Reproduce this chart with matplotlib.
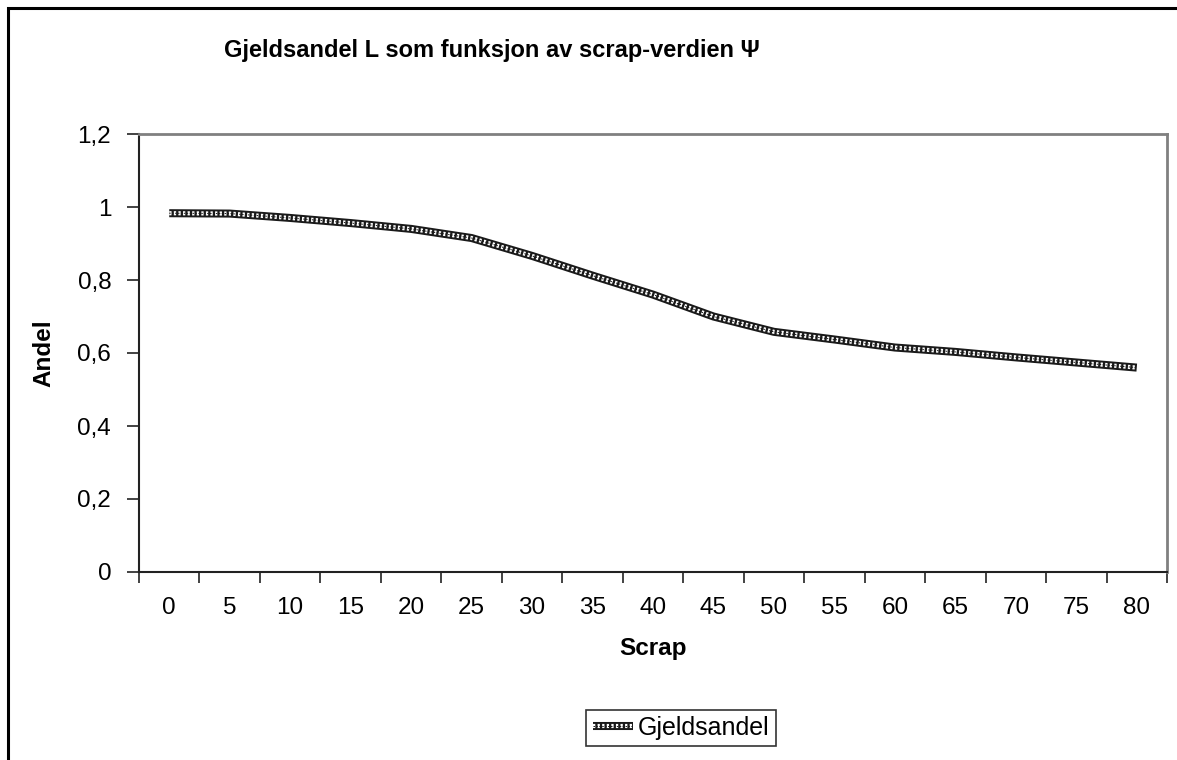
import matplotlib.pyplot as plt
from matplotlib.lines import Line2D
from matplotlib.patches import Rectangle
from matplotlib.legend_handler import HandlerTuple

# -----------------------------------------
# Data
# -----------------------------------------
scrap = [0, 5, 10, 15, 20, 25, 30, 35, 40, 45, 50, 55, 60, 65, 70, 75, 80]
andel = [0.983, 0.982, 0.970, 0.956, 0.940, 0.915, 0.866, 0.812, 0.760, 0.700,
         0.658, 0.637, 0.615, 0.603, 0.588, 0.574, 0.560]
y_ticks = [0, 0.2, 0.4, 0.6, 0.8, 1.0, 1.2]
y_labels = ["0", "0,2", "0,4", "0,6", "0,8", "1", "1,2"]

plt.rcParams['font.family'] = ['Liberation Sans', 'DejaVu Sans']

W, H = 1177, 760
fig = plt.figure(figsize=(W / 100, H / 100), dpi=100)

# outer chart frame
fig.patches.append(Rectangle((8 / W, -0.05), 1.2, 1 - 8 / H + 0.05,
                             transform=fig.transFigure, fill=False,
                             edgecolor='black', linewidth=2.2))

ax = fig.add_axes([139 / W, 1 - 572 / H, (1167 - 139) / W, (572 - 134) / H])

# patterned line: black band, white dashed core, thin black centre
styles = [dict(color='#1a1a1a', linewidth=5.8, solid_capstyle='butt'),
          dict(color='white', linewidth=3.0, dashes=(0.55, 0.55)),
          dict(color='#1a1a1a', linewidth=0.7, dashes=(1.5, 1.5))]

# categories sit between tick marks, like an Excel category axis
pos = list(range(len(scrap)))
for i, st in enumerate(styles):
    ax.plot(pos, andel, zorder=3 + i, **st)

ax.set_xlim(-0.5, len(scrap) - 0.5)
ax.set_ylim(0, 1.2)

ax.set_xticks([p - 0.5 for p in pos] + [len(scrap) - 0.5])
ax.set_xticklabels([])
ax.set_xticks(pos, minor=True)
ax.set_xticklabels([str(s) for s in scrap], minor=True, fontsize=17.5)
ax.tick_params(axis='x', which='major', direction='out', length=8, width=1.2, color='#222222')
ax.tick_params(axis='x', which='minor', length=0, pad=18)

ax.set_yticks(y_ticks)
ax.set_yticklabels(y_labels, fontsize=17.5)
ax.tick_params(axis='y', direction='out', length=9, width=1.2, color='#222222', pad=11)

for side in ['left', 'bottom']:
    ax.spines[side].set_color('#222222')
    ax.spines[side].set_linewidth(1.5)
for side in ['top', 'right']:
    ax.spines[side].set_color('#808080')
    ax.spines[side].set_linewidth(2)

ax.set_xlabel("Scrap", fontsize=17.5, fontweight='bold', labelpad=13)
ax.set_ylabel("Andel", fontsize=17.5, fontweight='bold', labelpad=16)

fig.text(492 / W, 1 - 50 / H, "Gjeldsandel L som funksjon av scrap-verdien Ψ",
         ha='center', va='center', fontsize=17, fontweight='bold')

handles = tuple(Line2D([], [], **st) for st in styles)
leg = fig.legend([handles], ["Gjeldsandel"], loc='center',
                 bbox_to_anchor=(681 / W, 1 - 728 / H), fontsize=18,
                 handler_map={tuple: HandlerTuple(ndivide=1)},
                 frameon=True, fancybox=False, edgecolor='black',
                 handlelength=1.6, handletextpad=0.2, borderpad=0.25,
                 borderaxespad=0)
leg.get_frame().set_linewidth(1.2)

fig.savefig("out.png", dpi=100)
